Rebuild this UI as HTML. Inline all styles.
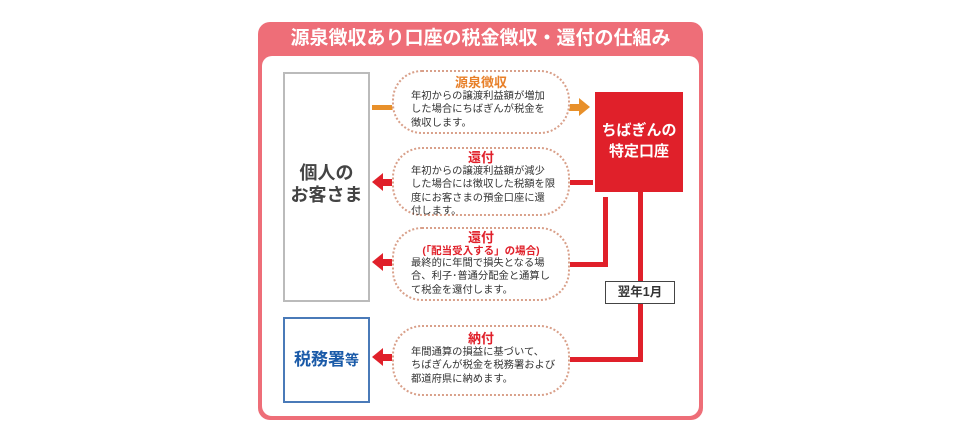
<!DOCTYPE html>
<html><head><meta charset="utf-8"><style>
body{margin:0;width:960px;height:440px;background:#fff;position:relative;overflow:hidden;font-family:"Liberation Sans","Noto Sans CJK JP",sans-serif}
div{position:absolute;box-sizing:border-box}
.b{border:2px dotted #d9a08a;border-radius:30px;background:#fff;text-align:center;font-size:10.3px;line-height:13.3px;color:#333;padding-top:3px}
.b .t{font-weight:bold;font-size:13px;line-height:15px;color:#e0202a}
.r{background:#e0202a}
.ar{width:0;height:0;border-top:9px solid transparent;border-bottom:9px solid transparent}
</style></head><body>
<div style="left:258px;top:22px;width:445px;height:398px;background:#ee6e78;border-radius:12px"></div>
<div style="left:258px;top:22px;width:445px;height:34px;color:#fff;font-weight:bold;font-size:19px;line-height:34px;text-align:center">源泉徴収あり口座の税金徴収・還付の仕組み</div>
<div style="left:262px;top:56px;width:437px;height:360px;background:#fff;border-radius:10px"></div>
<div style="left:283px;top:72px;width:87px;height:230px;border:2px solid #bbb;background:#fff"></div>
<div style="left:283px;top:162px;width:87px;text-align:center;font-weight:bold;font-size:18px;line-height:22px;color:#444">個人の<br>お客さま</div>
<div style="left:283px;top:317px;width:87px;height:86px;border:2px solid #4a7ab8;background:#fff;text-align:center;font-weight:bold;color:#1a5aa8;font-size:17px;line-height:82px">税務署<span style="font-size:14px">等</span></div>
<div class="r" style="left:595px;top:92px;width:88px;height:100px;color:#fff;font-weight:bold;font-size:15px;line-height:21px;text-align:center;padding-top:28px">ちばぎんの<br>特定口座</div>
<div style="left:372px;top:105px;width:22px;height:5px;background:#e8902a"></div>
<div style="left:568px;top:104px;width:12px;height:7px;background:#e8902a"></div>
<div class="ar" style="left:579px;top:98px;border-left:11px solid #e8902a"></div>
<div class="r" style="left:568px;top:180px;width:25px;height:5px"></div>
<div class="r" style="left:603px;top:197px;width:5px;height:70px"></div>
<div class="r" style="left:568px;top:262px;width:40px;height:5px"></div>
<div class="r" style="left:638px;top:191px;width:5px;height:171px"></div>
<div class="r" style="left:568px;top:357px;width:75px;height:5px"></div>
<div style="left:605px;top:281px;width:70px;height:23px;border:1.5px solid #444;background:#fff;font-weight:bold;font-size:12.5px;line-height:20px;text-align:center;color:#333">翌年1月</div>
<div class="r" style="left:382px;top:179px;width:12px;height:7px"></div><div class="ar" style="left:372px;top:173px;border-right:11px solid #e0202a"></div>
<div class="r" style="left:382px;top:259px;width:12px;height:7px"></div><div class="ar" style="left:372px;top:253px;border-right:11px solid #e0202a"></div>
<div class="r" style="left:382px;top:354px;width:12px;height:7px"></div><div class="ar" style="left:372px;top:348px;border-right:11px solid #e0202a"></div>
<div class="b" style="left:392px;top:70px;width:178px;height:64px"><div class="t" style="position:static;color:#e8802a">源泉徴収</div><div style="position:static;text-align:left;padding-left:17px">年初からの譲渡利益額が増加<br>した場合にちばぎんが税金を<br>徴収します。</div></div>
<div class="b" style="left:392px;top:147px;width:178px;height:69px;padding-top:1px"><div class="t" style="position:static">還付</div><div style="position:static;text-align:left;padding-left:17px">年初からの譲渡利益額が減少<br>した場合には徴収した税額を限<br>度にお客さまの預金口座に還<br>付します。</div></div>
<div class="b" style="left:392px;top:227px;width:178px;height:74px;padding-top:1px"><div class="t" style="position:static">還付</div><div style="position:static;color:#e0202a;font-weight:bold;font-size:10.5px;line-height:12px">(「配当受入する」の場合)</div><div style="position:static;text-align:left;padding-left:17px">最終的に年間で損失となる場<br>合、利子･普通分配金と通算し<br>て税金を還付します。</div></div>
<div class="b" style="left:392px;top:325px;width:178px;height:71px;padding-top:4px"><div class="t" style="position:static">納付</div><div style="position:static;text-align:left;padding-left:17px">年間通算の損益に基づいて、<br>ちばぎんが税金を税務署および<br>都道府県に納めます。</div></div>
</body></html>
